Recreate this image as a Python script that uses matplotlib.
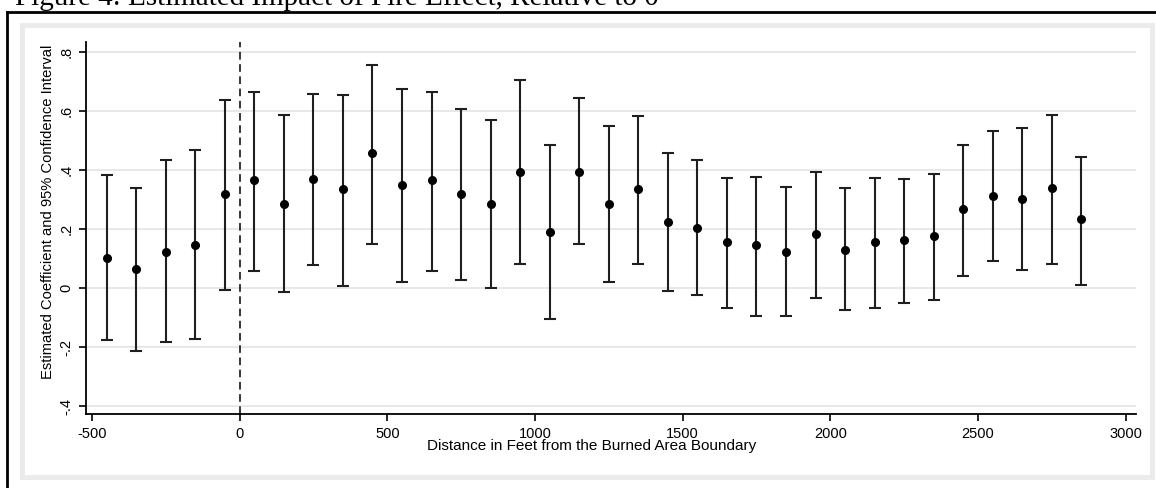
import matplotlib
matplotlib.use("Agg")
import matplotlib.pyplot as plt
from matplotlib.patches import Rectangle
from matplotlib.lines import Line2D

# ==========================
# Data
# ==========================

distance = [-450, -350, -250, -150, -50, 50, 150, 250, 350, 450,
            550, 650, 750, 850, 950, 1050, 1150, 1250, 1350, 1450,
            1550, 1650, 1750, 1850, 1950, 2050, 2150, 2250, 2350, 2450,
            2550, 2650, 2750, 2850]

coef = [0.103, 0.064, 0.123, 0.146, 0.318, 0.366, 0.286, 0.370, 0.335, 0.458,
        0.350, 0.365, 0.318, 0.286, 0.393, 0.189, 0.393, 0.286, 0.335, 0.225,
        0.204, 0.156, 0.146, 0.123, 0.182, 0.129, 0.156, 0.162, 0.176, 0.269,
        0.312, 0.302, 0.340, 0.233]

ci_low = [-0.176, -0.214, -0.183, -0.172, -0.005, 0.058, -0.015, 0.077, 0.006, 0.150,
          0.021, 0.058, 0.027, 0.000, 0.082, -0.106, 0.149, 0.021, 0.082, -0.009,
          -0.025, -0.066, -0.096, -0.096, -0.035, -0.076, -0.066, -0.051, -0.040, 0.041,
          0.093, 0.062, 0.082, 0.011]

ci_high = [0.383, 0.338, 0.435, 0.467, 0.638, 0.663, 0.586, 0.659, 0.654, 0.756,
           0.673, 0.663, 0.608, 0.571, 0.705, 0.485, 0.643, 0.550, 0.582, 0.459,
           0.434, 0.374, 0.377, 0.343, 0.393, 0.338, 0.374, 0.368, 0.388, 0.485,
           0.532, 0.541, 0.587, 0.444]

x_ticks = [-500, 0, 500, 1000, 1500, 2000, 2500, 3000]
y_ticks = [0.8, 0.6, 0.4, 0.2, 0.0, -0.2, -0.4]
y_tick_labels = [".8", ".6", ".4", ".2", "0", "-.2", "-.4"]

caption = "Figure 4: Estimated Impact of Fire Effect, Relative to 0"

# ==========================
# Figure
# ==========================

W, H = 1156, 488
plt.rcParams["font.family"] = ["Liberation Sans", "DejaVu Sans"]
fig = plt.figure(figsize=(W / 100, H / 100), dpi=100)


def px(x, y):
    return x / W, 1 - y / H


# page frame (clipped document border)
fig.add_artist(Line2D([7 / W, 1], [1 - 11.5 / H] * 2, color="black", lw=2))
fig.add_artist(Line2D([7 / W] * 2, [0, 1 - 11.5 / H], color="black", lw=2))

# clipped caption above the frame
fig.text(15 / W, 1 - 5 / H, caption, family="Liberation Serif",
         fontsize=21, va="baseline", ha="left")

# graph region: light grey border, white inside (behind the axes)
x0, y0 = px(20, 480)
fig.add_artist(Rectangle((x0, y0), 1135 / W, 457 / H,
                         transform=fig.transFigure, color="#ebebeb", lw=0,
                         zorder=-10))
x1, y1 = px(25, 475)
fig.add_artist(Rectangle((x1, y1), 1125 / W, 447 / H,
                         transform=fig.transFigure, color="white", lw=0,
                         zorder=-9))

ax = fig.add_axes([86 / W, 1 - 414 / H, (1136 - 86) / W, (414 - 42) / H])
ax.set_facecolor("none")

ax.errorbar(distance, coef,
            yerr=[[c - l for c, l in zip(coef, ci_low)],
                  [h - c for c, h in zip(coef, ci_high)]],
            fmt="o", color="black", markersize=5.5,
            ecolor="#1f1f1f", elinewidth=1.5, capsize=4, capthick=1.5,
            zorder=3)

ax.axvline(0, color="black", lw=1.1, ls=(0, (5, 3)), zorder=2)

ax.set_xlim(-520, 3035)
ax.set_ylim(-0.427, 0.834)

ax.set_xticks(x_ticks)
ax.set_xticklabels([str(t) for t in x_ticks])
ax.set_yticks(y_ticks)
ax.set_yticklabels(y_tick_labels, rotation=90, va="center")

for yv in y_ticks:
    ax.axhline(yv, color="#e6e6e6", lw=1.3, zorder=0)

for side in ["top", "right"]:
    ax.spines[side].set_visible(False)
for side in ["left", "bottom"]:
    ax.spines[side].set_linewidth(1.3)

ax.tick_params(axis="both", direction="out", length=5, width=1.2,
               labelsize=10.5, colors="black")
ax.tick_params(axis="x", pad=4)
ax.tick_params(axis="y", pad=4)

fig.text(592 / W, 1 - 446 / H, "Distance in Feet from the Burned Area Boundary",
         ha="center", va="center", fontsize=11)
fig.text(48 / W, 1 - 212 / H, "Estimated Coefficient and 95% Confidence Interval",
         ha="center", va="center", rotation=90, fontsize=10.6)

fig.savefig("out.png", dpi=100)
